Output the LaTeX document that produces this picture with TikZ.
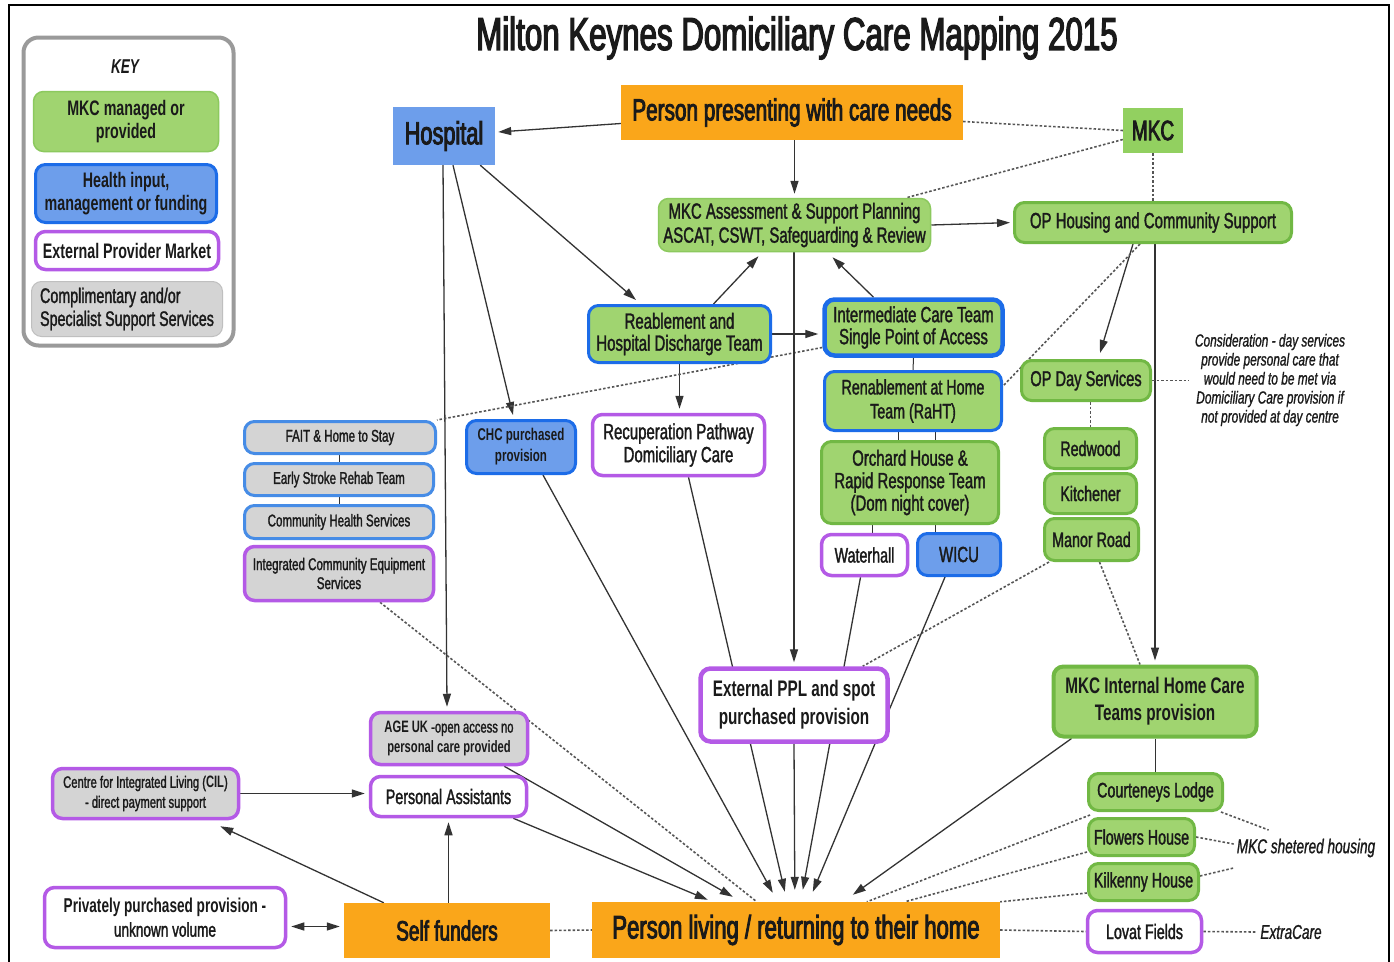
\documentclass[tikz,border=0pt]{standalone}
\usepackage{fontspec}
\setmainfont{Liberation Sans}[FakeStretch=0.68, UprightFeatures={FakeBold=1.5}, ItalicFeatures={FakeBold=1.0}]
\newfontfamily\heavyf{Liberation Sans}[FakeStretch=0.68, UprightFeatures={FakeBold=2.8}]
\usetikzlibrary{arrows.meta,calc,backgrounds}
\definecolor{gfill}{HTML}{A0D470}
\definecolor{gline}{HTML}{71B844}
\definecolor{glt}{HTML}{8CC95E}
\definecolor{bfill}{HTML}{6D9EEB}
\definecolor{bline}{HTML}{1C6CE8}
\definecolor{bline2}{HTML}{468CE6}
\definecolor{pline}{HTML}{B45AE6}
\definecolor{grayf}{HTML}{D4D4D4}
\definecolor{orng}{HTML}{FAA61A}
\definecolor{mkcg}{HTML}{92D060}
\definecolor{txt}{HTML}{1A1A1A}
\definecolor{lc}{HTML}{333333}
\definecolor{dc}{HTML}{555555}
\definecolor{keyline}{HTML}{9A9A9A}
\newcommand{\fsz}[2]{\fontsize{#1pt}{#2pt}\selectfont}
\begin{document}
\begin{tikzpicture}[x=1pt,y=-1pt,
 sz/.style 2 args={minimum width=#1pt-3pt, minimum height=#2pt-3pt},
 szr/.style 2 args={minimum width=#1pt, minimum height=#2pt},
 box/.style={rounded corners=10pt, inner sep=0pt, align=center, text=txt},
 gbox/.style={box, fill=gfill, draw=gline, line width=3pt},
 gltbox/.style={box, fill=gfill, draw=glt, line width=1.5pt},
 bgbox/.style={box, fill=gfill, draw=bline, line width=3pt},
 bbox/.style={box, fill=bfill, draw=bline, line width=3pt},
 pbox/.style={box, fill=white, draw=pline, line width=3.5pt},
 gpbox/.style={box, fill=grayf, draw=pline, line width=3.5pt},
 gbbox/.style={box, fill=grayf, draw=bline2, line width=3pt},
 sq/.style={inner sep=0pt, align=center, text=txt},
 conn/.style={draw=lc, line width=1.3pt},
 arr/.style={conn, -{Triangle[length=13pt,width=8pt]}},
 dotl/.style={draw=dc, line width=1.6pt, dash pattern=on 2.5pt off 2pt},
]
\useasboundingbox (0,0) rectangle (1394,961);

% title
\node[sq, font=\heavyf\fsz{46}{50}] (title) at (797,38) {Milton Keynes Domiciliary Care Mapping 2015};

% key
\node[box, draw=keyline, line width=4pt, rounded corners=15pt, fill=white, sz={213}{311}] (key) at (128.5,191.5) {};
\node[sq, font=\fsz{20}{22}\bfseries\itshape] (keyt) at (125,67) {KEY};
\node[gltbox, sz={188}{63}, font=\fsz{21}{23}\bfseries] (k1) at (126,121.5) {MKC managed or\\provided};
\node[bbox, sz={184}{61}, font=\fsz{21}{23}\bfseries] (k2) at (126,193.5) {Health input,\\management or funding};
\node[pbox, sz={186}{41}, font=\fsz{21}{23}\bfseries] (k3) at (127,250.5) {External Provider Market};
\node[box, fill=grayf, draw=grayf!90!black, line width=1pt, sz={194}{58}, font=\fsz{21}{23}, align=left] (k4) at (127,309) {Complimentary and/or\\Specialist Support Services};

% top row
\node[sq, fill=bfill, szr={102}{58}, font=\heavyf\fsz{32}{34}] (hosp) at (444,136) {Hospital};
\node[sq, fill=orng, szr={342}{55}, font=\heavyf\fsz{30.5}{32}] (pres) at (792,112.5) {Person presenting with care needs};
\node[sq, fill=mkcg, szr={60}{45}, font=\heavyf\fsz{28}{30}] (mkc) at (1153,130.5) {MKC};
\node[gltbox, sz={275}{56}, font=\fsz{22}{24}] (assess) at (794.5,225) {MKC Assessment \& Support Planning\\ASCAT, CSWT, Safeguarding \& Review};
\node[gbox, sz={280}{43}, font=\fsz{22}{24}] (ophous) at (1153,222.5) {OP Housing and Community Support};

% middle
\node[bgbox, sz={185}{60}, font=\fsz{22}{22}] (reab) at (679.5,334) {Reablement and\\Hospital Discharge Team};
\node[bgbox, line width=4.5pt, sz={181}{59}, font=\fsz{22}{22}] (icare) at (913.5,327.5) {Intermediate Care Team\\Single Point of Access};
\node[bgbox, sz={180}{62}, font=\fsz{21}{24}] (raht) at (913,401) {Renablement at Home\\Team (RaHT)};
\node[gbox, sz={180}{85}, font=\fsz{22}{22.5}] (orch) at (910,482.5) {Orchard House \&\\Rapid Response Team\\(Dom night cover)};
\node[pbox, sz={89}{44}, font=\fsz{21}{23}] (water) at (864.5,555) {Waterhall};
\node[bbox, sz={86}{45}, font=\fsz{22}{23}] (wicu) at (959,554.5) {WICU};
\node[gbox, sz={132}{43}, font=\fsz{21.5}{23}] (opday) at (1086,380.5) {OP Day Services};
\node[gbox, sz={95}{43}, font=\fsz{21}{23}] (redw) at (1090.5,448.5) {Redwood};
\node[gbox, sz={95}{43}, font=\fsz{21}{23}] (kitch) at (1090.5,493.5) {Kitchener};
\node[gbox, sz={97}{45}, font=\fsz{21}{23}] (manor) at (1091.5,539.5) {Manor Road};
\node[sq, font=\fsz{17.5}{19}\itshape] (consid) at (1270,380) {Consideration - day services\\provide personal care that\\would need to be met via\\Domiciliary Care provision if\\not provided at day centre};

\node[gbbox, sz={194}{35}, font=\fsz{17}{19}] (fait) at (340,437.5) {FAIT \& Home to Stay};
\node[gbbox, sz={192}{35}, font=\fsz{17}{19}] (esrt) at (339,479.5) {Early Stroke Rehab Team};
\node[gbbox, sz={192}{36}, font=\fsz{17}{19}] (chs) at (339,522) {Community Health Services};
\node[gpbox, sz={192}{57}, font=\fsz{17}{19}] (ices) at (339,573.5) {Integrated Community Equipment\\Services};
\node[bbox, sz={112}{56}, font=\fsz{17}{21}\bfseries] (chc) at (521,447) {CHC purchased\\provision};
\node[pbox, sz={175}{64}, font=\fsz{22}{23}] (recup) at (678.5,445) {Recuperation Pathway\\Domiciliary Care};

% lower
\node[pbox, line width=4.5pt, sz={190}{76}, font=\fsz{22.5}{28}\bfseries] (extppl) at (794,705) {External PPL and spot\\purchased provision};
\node[gbox, line width=4pt, sz={206}{73}, font=\fsz{22.5}{27}\bfseries] (mkcint) at (1155,701.5) {MKC Internal Home Care\\Teams provision};
\node[gpbox, sz={160}{55}, font=\fsz{16.5}{20}] (ageuk) at (449,738.5) {{\bfseries AGE UK} -open access no\\{\bfseries personal care provided}};
\node[pbox, sz={159}{43}, font=\fsz{21}{23}] (pa) at (448.5,796.5) {Personal Assistants};
\node[gpbox, sz={189}{53}, font=\fsz{16.5}{20}] (cil) at (145.5,793.5) {Centre for Integrated Living ({\bfseries CIL})\\- direct payment support};
\node[pbox, sz={244}{63}, font=\fsz{20}{24}] (priv) at (165,917.5) {{\bfseries Privately purchased provision -}\\unknown volume};
\node[sq, fill=orng, szr={206}{55}, font=\heavyf\fsz{28}{30}] (self) at (447,930.5) {Self funders};
\node[sq, fill=orng, szr={408}{56}, font=\heavyf\fsz{32.5}{34}] (home) at (796,930) {Person living / returning to their home};
\node[gbox, sz={137}{40}, font=\fsz{21}{23}] (court) at (1155.5,792) {Courteneys Lodge};
\node[gbox, sz={109}{40}, font=\fsz{21}{23}] (flow) at (1141.5,837) {Flowers House};
\node[gbox, sz={113}{40}, font=\fsz{21}{23}] (kilk) at (1143.5,882) {Kilkenny House};
\node[pbox, sz={117}{45}, font=\fsz{21}{23}] (lovat) at (1144.5,931.5) {Lovat Fields};
\node[sq, font=\fsz{20}{22}\itshape] (shelt) at (1306,848) {MKC shetered housing};
\node[sq, font=\fsz{20}{22}\itshape] (extra) at (1291,932) {ExtraCare};

\begin{pgfonlayer}{background}
\fill[white] (0,0) rectangle (1394,961);
\draw[black, line width=2.5pt] (9,975) -- (9,5) -- (1389,5) -- (1389,975);

% top connectors
\draw[arr] ($(pres.west)+(0,11)$) -- ($(hosp.east)+(3,-4)$);
\draw[arr, shorten >=4pt] (assess.north |- pres.south) -- (assess.north);
\draw[dotl] ($(pres.east)+(0,9)$) -- (mkc.west);
\draw[dotl] ($(mkc.west)+(0,9)$) -- ($(assess.north east)+(-25,0)$);
\draw[dotl] (mkc.south) -- (mkc.south |- ophous.north);
\draw[arr, shorten >=3pt] (assess.east) -- (ophous.west);
\draw[arr] ($(hosp.south east)+(-15,0)$) -- ($(reab.north west)+(49,-4)$);
\draw[arr] ($(hosp.south)+(9,0)$) -- ($(chc.north)+(-8,-4)$);
\draw[arr] ($(hosp.south)+(-1,0)$) -- ($(ageuk.north)+(-2,-4)$);
\draw[arr] ($(reab.north)+(34,0)$) -- ($(assess.south)+(-36,4)$);
\draw[arr] ($(icare.north)+(-40,0)$) -- ($(assess.south)+(38,5)$);
\draw[arr, shorten >=4pt] (reab.east) -- (icare.west |- reab.east);
\draw[arr, shorten >=4pt] (reab.south) -- (reab.south |- recup.north);
\draw[dotl] ($(icare.west)+(0,20)$) -- (fait.north east);
\draw[arr, shorten >=4pt] (extppl.north |- assess.south) -- (extppl.north);
\draw[arr] ($(ophous.south)+(-20,0)$) -- ($(opday.north)+(14,-6)$);
\draw[arr, shorten >=4pt] (mkcint.north |- ophous.south) -- (mkcint.north);
\draw[dotl] ($(ophous.south)+(-13,0)$) -- ($(raht.east)+(0,-15)$);
\draw[dotl] (opday.east) -- ($(consid.west |- opday.east)+(-6,0)$);
\draw[dotl] (redw.north |- opday.south) -- (redw.north);
\draw[dotl] ($(manor.south west)+(6,0)$) -- ($(extppl.north east)+(-27,0)$);
\draw[dotl] ($(manor.south)+(8,0)$) -- ($(mkcint.north)+(-15,0)$);

% short ticks
\draw[conn, line width=1pt] (icare.south) -- (raht.north);
\draw[conn, line width=1pt] ($(raht.south)+(-15,0)$) -- ($(raht.south |- orch.north)+(-15,0)$);
\draw[conn, line width=1pt] ($(raht.south)+(22,0)$) -- ($(raht.south |- orch.north)+(22,0)$);
\draw[conn, line width=1pt] ($(water.north)+(8,0)$) -- ($(water.north |- orch.south)+(8,0)$);
\draw[conn, line width=1pt] ($(wicu.north)+(-24,0)$) -- ($(wicu.north |- orch.south)+(-24,0)$);
\draw[conn, line width=1pt] (esrt.north) -- (esrt.north |- fait.south);
\draw[conn, line width=1pt] (chs.north) -- (chs.north |- esrt.south);
\draw[conn] (court.north |- mkcint.south) -- (court.north);

% to home
\draw[arr] ($(pa.south east)+(-15,0)$) -- ($(home.north west)+(116,-2)$);
\draw[arr] ($(ageuk.south east)+(-25,0)$) -- ($(home.north west)+(141,-5)$);
\draw[dotl] ($(ices.south)+(41,0)$) -- ($(home.north west)+(165,0)$);
\draw[arr] ($(chc.south)+(22,0)$) -- ($(home.north west)+(181,-9)$);
\draw[arr] ($(recup.south)+(10,0)$) -- ($(home.north west)+(193,-10)$);
\draw[arr] (extppl.south) -- ($(home.north west)+(203,-12)$);
\draw[arr] ($(water.south)+(-4,0)$) -- ($(home.north west)+(211,-12)$);
\draw[arr] ($(wicu.south)+(-14,0)$) -- ($(home.north west)+(221,-10)$);
\draw[arr] ($(mkcint.south west)+(20,0)$) -- ($(home.north west)+(261,-7)$);
\draw[dotl] ($(court.south west)+(3,3)$) -- ($(home.north west)+(275,0)$);
\draw[dotl] ($(flow.west)+(0,15)$) -- ($(home.north west)+(313,0)$);
\draw[dotl] ($(kilk.west)+(0,11)$) -- (home.north east);
\draw[dotl] (home.east) -- (lovat.west);
\draw[dotl] (self.east) -- (home.west);
\draw[dotl] (lovat.east) -- ($(extra.west)+(-4,0)$);

% bottom left
\draw[arr] ($(self.north west)+(40,0)$) -- ($(cil.south east)+(-20,6)$);
\draw[arr, shorten >=4pt] (pa.south |- self.north) -- (pa.south);
\draw[conn, {Triangle[length=13pt,width=8pt]}-{Triangle[length=13pt,width=8pt]}] ($(self.west)+(-4,-4)$) -- ($(priv.east)+(4,9)$);
\draw[arr, shorten >=4pt] (cil.east) -- (pa.west |- cil.east);

% sheltered housing
\draw[dotl] ($(court.south east)+(-3,0)$) -- ($(shelt.west)+(32,-18)$);
\draw[dotl] (flow.east) -- ($(shelt.west)+(-3,-4)$);
\draw[dotl] ($(kilk.east)+(0,-6)$) -- ($(shelt.west)+(-3,20)$);
\end{pgfonlayer}
\end{tikzpicture}
\end{document}
